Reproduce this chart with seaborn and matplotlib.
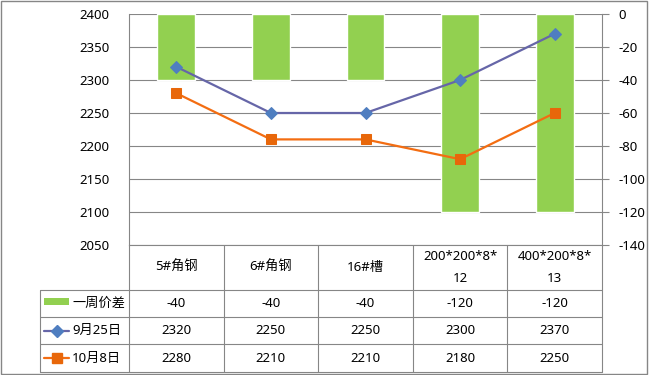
import matplotlib
matplotlib.use("Agg")
import matplotlib.pyplot as plt
from matplotlib.lines import Line2D
from matplotlib.patches import Rectangle
import seaborn as sns
import numpy as np

categories = ["5#角钢", "6#角钢", "16#槽", "200*200*8*\n12", "400*200*8*\n13"]
week_diff = [-40, -40, -40, -120, -120]
sep25 = [2320, 2250, 2250, 2300, 2370]
oct8 = [2280, 2210, 2210, 2180, 2250]
series_names = ["一周价差", "9月25日", "10月8日"]
left_ticks = [2050, 2100, 2150, 2200, 2250, 2300, 2350, 2400]
right_ticks = [-140, -120, -100, -80, -60, -40, -20, 0]

sns.set_theme(style="white")
plt.rcParams["font.family"] = ["Noto Sans", "Noto Sans CJK SC", "DejaVu Sans"]
plt.rcParams["axes.unicode_minus"] = False

GREEN = "#92D050"
PURPLE = "#6666A8"
BLUE_M = "#4F7EC0"
ORANGE = "#F36D12"
ORANGE_M = "#E8670A"
GRID = "#868686"
TXT = "#000000"
FS = 9.5

W, H = 649, 375
fig = plt.figure(figsize=(W / 100, H / 100), dpi=100)
fig.patch.set_facecolor("white")

def fx(px):
    return px / W

def fy(py):
    return 1 - py / H

L, R, T, B = 129, 602, 14, 245
ax = fig.add_axes([fx(L), fy(B), (R - L) / W, (B - T) / H])
ax2 = ax.twinx()
x = np.arange(len(categories))

sns.barplot(x=x, y=week_diff, color=GREEN, width=0.4, saturation=1, ax=ax, zorder=2)
ax.set_xlim(-0.5, len(categories) - 0.5)
ax.set_ylim(-140, 0)
ax.set_yticks(right_ticks)
ax.set_yticklabels([str(v) for v in right_ticks], fontsize=FS, color=TXT)
ax.set_xticks([])
ax.set_xlabel("")
ax.set_ylabel("")
ax.set_axisbelow(True)
ax.yaxis.grid(True, color=GRID, lw=0.8)
ax.spines["top"].set_visible(False)
for s in ["left", "right", "bottom"]:
    ax.spines[s].set_color(GRID)
    ax.spines[s].set_linewidth(0.8)

sns.lineplot(x=x, y=sep25, ax=ax2, color=PURPLE, lw=1.6, marker="D", markersize=6.5,
             markerfacecolor=BLUE_M, markeredgecolor=BLUE_M, zorder=3)
sns.lineplot(x=x, y=oct8, ax=ax2, color=ORANGE, lw=1.6, marker="s", markersize=7,
             markerfacecolor=ORANGE_M, markeredgecolor=ORANGE_M, zorder=3)
ax2.set_ylim(2050, 2400)
ax2.set_yticks(left_ticks)
ax2.set_yticklabels([str(v) for v in left_ticks], fontsize=FS, color=TXT)
ax2.set_xticks([])
ax2.set_ylabel("")
for s in ax2.spines.values():
    s.set_visible(False)

# axis sides (after twinx)
ax.yaxis.tick_right()
ax.yaxis.set_label_position("right")
ax.tick_params(axis="y", which="both", right=True, left=False, labelright=True,
               labelleft=False, length=5, width=0.8, color=GRID, pad=7)
ax2.yaxis.tick_left()
ax2.tick_params(axis="y", left=False, right=False, labelleft=True, labelright=False,
                length=0, pad=14)

# data table
def hline(y, x0, x1):
    fig.add_artist(Line2D([fx(x0), fx(x1)], [fy(y), fy(y)], color=GRID, lw=0.8,
                          transform=fig.transFigure))

def vline(xp, y0, y1):
    fig.add_artist(Line2D([fx(xp), fx(xp)], [fy(y0), fy(y1)], color=GRID, lw=0.8,
                          transform=fig.transFigure))

col_w = (R - L) / len(categories)
rows_y = [245, 290, 317, 344, 372]
for y in rows_y[1:]:
    hline(y, 40, R)
vline(40, 290, 372)
for i in range(len(categories) + 1):
    vline(L + i * col_w, 245, 372)

for i, c in enumerate(categories):
    cx = L + (i + 0.5) * col_w
    if "\n" in c:
        a, b = c.split("\n")
        fig.text(fx(cx), fy(256), a, ha="center", va="center", fontsize=FS, color=TXT)
        fig.text(fx(cx), fy(279), b, ha="center", va="center", fontsize=FS, color=TXT)
    else:
        fig.text(fx(cx), fy(267.5), c, ha="center", va="center", fontsize=FS, color=TXT)

row_vals = [week_diff, sep25, oct8]
row_cy = [303.5, 330.5, 358]
for r, vals in enumerate(row_vals):
    for i, v in enumerate(vals):
        cx = L + (i + 0.5) * col_w
        fig.text(fx(cx), fy(row_cy[r]), str(v), ha="center", va="center", fontsize=FS, color=TXT)
    fig.text(fx(72), fy(row_cy[r]), series_names[r], ha="left", va="center", fontsize=FS, color=TXT)

# legend keys
fig.add_artist(Rectangle((fx(44), fy(304.5)), (69 - 44) / W, 7 / H, facecolor=GREEN,
                         edgecolor="none", transform=fig.transFigure))
fig.add_artist(Line2D([fx(44), fx(69)], [fy(330.5), fy(330.5)], color=PURPLE, lw=1.6,
                      transform=fig.transFigure))
fig.add_artist(Line2D([fx(56.5)], [fy(330.5)], marker="D", markersize=6, color=BLUE_M,
                      transform=fig.transFigure))
fig.add_artist(Line2D([fx(44), fx(69)], [fy(358), fy(358)], color=ORANGE, lw=1.6,
                      transform=fig.transFigure))
fig.add_artist(Line2D([fx(56.5)], [fy(358)], marker="s", markersize=6.5, color=ORANGE_M,
                      transform=fig.transFigure))

# outer border
fig.add_artist(Rectangle((fx(1), fy(374)), (647 - 1) / W, (374 - 1) / H, facecolor="none",
                         edgecolor=GRID, lw=1, transform=fig.transFigure))

fig.savefig("out.png", dpi=100)
